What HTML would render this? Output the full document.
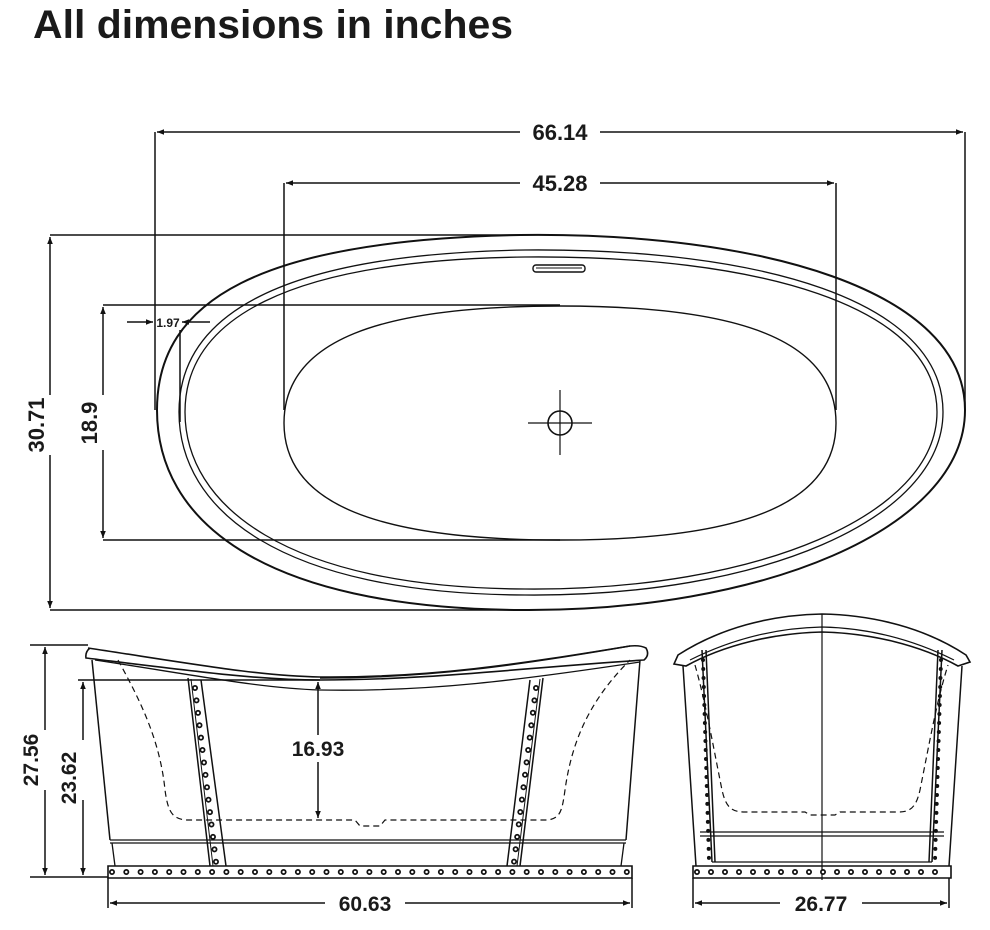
<!DOCTYPE html>
<html><head><meta charset="utf-8"><style>
html,body{margin:0;padding:0;background:#fff;}
svg{display:block;}
text{font-family:"Liberation Sans",sans-serif;font-weight:bold;fill:#1a1a1a;}
</style></head><body>
<svg width="990" height="930" viewBox="0 0 990 930" xmlns="http://www.w3.org/2000/svg">
<defs>
<marker id="a" viewBox="0 0 10 10" refX="10" refY="5" markerWidth="9" markerHeight="7" orient="auto-start-reverse" markerUnits="userSpaceOnUse"><path d="M0,1 L10,5 L0,9 Z" fill="#111"/></marker>
</defs>
<text x="33" y="38" font-size="40" textLength="480" lengthAdjust="spacingAndGlyphs">All dimensions in inches</text>

<g fill="none" stroke="#111">
<!-- TOP VIEW -->
<path stroke-width="2" d="M157,410 C157,300 260,240 520,235 C760,232 965,290 965,410 C965,530 760,612 520,610 C260,608 157,520 157,410Z"/>
<path stroke-width="1.3" d="M179,412 C179,315 280,254 525,250 C760,248 943,300 943,412 C943,520 760,597 525,595 C280,594 179,510 179,412Z"/>
<path stroke-width="1.3" d="M185,412 C185,320 285,260 525,257 C757,255 937,305 937,412 C937,515 757,591 525,589 C285,588 185,505 185,412Z"/>
<path stroke-width="1.4" d="M284,423 C284,340 380,306 560,306 C740,306 836,340 836,423 C836,505 740,540 560,540 C380,540 284,505 284,423Z"/>
<circle cx="560" cy="423" r="12" stroke-width="1.6"/>
<path stroke-width="1.2" d="M528,423H592M560,390V455"/>
<rect x="533" y="265" width="52" height="7" rx="3" stroke-width="1.4"/>
<path stroke-width="1" d="M536,268H582"/>

<g stroke-width="1.5">
<path d="M155,132V410M965,132V410M284,183V410M836,183V410"/>
<path d="M157,132H520" marker-start="url(#a)"/><path d="M600,132H963" marker-end="url(#a)"/>
<path d="M286,183H520" marker-start="url(#a)"/><path d="M600,183H834" marker-end="url(#a)"/>
<path d="M50,235H520M50,610H520M103,305H560M103,540H560"/>
<path d="M50,237V395" marker-start="url(#a)"/><path d="M50,455V608" marker-end="url(#a)"/>
<path d="M103,307V395" marker-start="url(#a)"/><path d="M103,450V538" marker-end="url(#a)"/>
<path d="M127,322H153" marker-end="url(#a)"/><path d="M210,322H182" marker-end="url(#a)"/>
<path d="M180,330V422"/>
</g>
</g>
<text x="560" y="140" font-size="22" text-anchor="middle">66.14</text>
<text x="560" y="191" font-size="22" text-anchor="middle">45.28</text>
<text x="168" y="327" font-size="12" text-anchor="middle">1.97</text>
<text transform="translate(44,425) rotate(-90)" font-size="22" text-anchor="middle">30.71</text>
<text transform="translate(97,423) rotate(-90)" font-size="22" text-anchor="middle">18.9</text>

<!-- SIDE VIEW -->
<g fill="none" stroke="#111">
<path stroke-width="1.6" d="M90,648 Q85,652 86,658 C200,672 260,680 320,680 C430,680 520,668 644,660 Q650,655 646,648 Q640,645 630,646 C520,665 430,678 320,678"/>
<path stroke-width="1.6" d="M88,648 C200,665 260,676 320,677 C430,678 520,664 630,646"/>
<path stroke-width="1.3" d="M95,660 C200,676 260,688 320,690 C430,692 520,680 640,662"/>
<path stroke-width="1.5" d="M92,660 L110,840 M640,660 L626,840"/>
<path stroke-width="1.3" d="M110,840H626M110,843H626M112,843L115,866M624,843L621,866"/>
<path stroke-width="1.6" d="M108,866H632V878H108Z"/>
<path stroke-width="1.2" stroke-dasharray="6,4" d="M118,660 C140,700 160,740 165,790 C168,812 172,818 185,820 H355 L360,826 H380 L385,820 H548 C560,818 562,812 565,790 C572,740 590,700 630,660"/>
<path stroke-width="1.5" d="M188,678L210,866M201,680L226,866M543,678L520,866M530,680L507,866"/>
<path stroke-width="1" d="M191,679L213,866M540,679L517,866M210,866H226M507,866H520"/>
<g stroke-linecap="round">
<path stroke-width="6" stroke-dasharray="0,12.5" d="M195,688L216,862"/>
<path stroke-width="6" stroke-dasharray="0,12.5" d="M536,688L514,862"/>
<path stroke-width="6" stroke-dasharray="0,14.3" d="M112,872H632"/>
<path stroke="#fff" stroke-width="2.5" stroke-dasharray="0,12.5" d="M195,688L216,862"/>
<path stroke="#fff" stroke-width="2.5" stroke-dasharray="0,12.5" d="M536,688L514,862"/>
<path stroke="#fff" stroke-width="2.5" stroke-dasharray="0,14.3" d="M112,872H632"/>
</g>
<g stroke-width="1.5">
<path d="M30,645H88M78,680H320M30,877H108M108,878V908M632,878V908"/>
<path d="M45,647V730" marker-start="url(#a)"/><path d="M45,790V875" marker-end="url(#a)"/>
<path d="M83,682V740" marker-start="url(#a)"/><path d="M83,800V875" marker-end="url(#a)"/>
<path d="M318,682V735" marker-start="url(#a)"/><path d="M318,762V818" marker-end="url(#a)"/>
<path d="M110,903H325" marker-start="url(#a)"/><path d="M405,903H630" marker-end="url(#a)"/>
</g>
</g>
<text x="318" y="756" font-size="21" text-anchor="middle">16.93</text>
<text x="365" y="911" font-size="21" text-anchor="middle">60.63</text>
<text transform="translate(38,760) rotate(-90)" font-size="21" text-anchor="middle">27.56</text>
<text transform="translate(76,778) rotate(-90)" font-size="21" text-anchor="middle">23.62</text>

<!-- END VIEW -->
<g fill="none" stroke="#111">
<path stroke-width="1.6" d="M678,655 C720,628 770,615 822,614 C874,615 925,628 966,655 L970,662 L958,666 C920,645 870,633 822,632 C774,633 724,645 686,666 L674,664Z"/>
<path stroke-width="1.2" d="M690,660 C730,640 775,628 822,627 C869,628 914,640 954,660"/>
<path stroke-width="1.5" d="M683,666L696,866M962,666L949,866"/>
<path stroke-width="1.5" d="M702,650L712,862M942,650L932,862M706,650L715,862M938,650L929,862"/>
<path stroke-width="1.2" d="M822,614V880"/>
<path stroke-width="1.2" d="M700,832H944M700,836H944M712,862H932"/>
<path stroke-width="1.6" d="M693,866H951V878H693Z"/>
<path stroke-width="1.2" stroke-dasharray="6,4" d="M695,665 C705,700 712,740 722,790 C726,808 732,812 745,812 H805 L810,815 H835 L840,812 H898 C910,812 916,808 920,790 C930,740 937,700 948,665"/>
<g stroke-linecap="round">
<path stroke-width="4" stroke-dasharray="0,9" d="M703,660L709,860"/>
<path stroke-width="4" stroke-dasharray="0,9" d="M941,660L935,860"/>
<path stroke-width="6" stroke-dasharray="0,14" d="M697,872H947"/>
<path stroke="#fff" stroke-width="2.5" stroke-dasharray="0,14" d="M697,872H947"/>
</g>
<g stroke-width="1.5">
<path d="M693,878V908M949,878V908"/>
<path d="M695,903H780" marker-start="url(#a)"/><path d="M862,903H947" marker-end="url(#a)"/>
</g>
</g>
<text x="821" y="911" font-size="21" text-anchor="middle">26.77</text>
</svg>
</body></html>
